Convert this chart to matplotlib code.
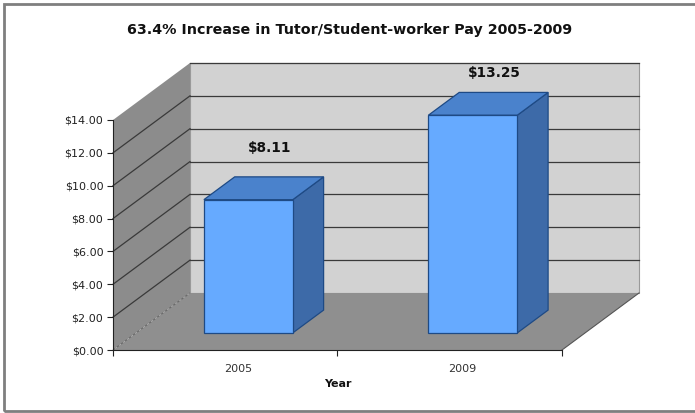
import matplotlib
matplotlib.use("Agg")
import matplotlib.pyplot as plt
from matplotlib.patches import Polygon, Rectangle
from matplotlib.ticker import FuncFormatter, FixedLocator
import matplotlib.transforms as mtransforms

# --- data ---
years = ["2005", "2009"]
pay = [8.11, 13.25]
value_labels = ["$8.11", "$13.25"]
title = "63.4% Increase in Tutor/Student-worker Pay 2005-2009"

# 3D look: depth offset of the box (x in category units, y in dollars)
DX, DY = 0.343, 3.47
D0, D1 = 0.30, 0.70      # bar front / back depth fractions
BAR_W = 0.396
YMAX = 14

fig = plt.figure(figsize=(6.95, 4.13), dpi=100)
ax = fig.add_axes([113 / 695, 63 / 413, 449 / 695, 230 / 413])
ax.set_xlim(0, len(years))
ax.set_ylim(0, YMAX)
ax.patch.set_visible(False)

side_col = "#8c8c8c"
floor_col = "#8f8f8f"
back_col = "#d2d2d2"
grid_col = "#3a3a3a"
n = len(years)

# walls and floor
ax.add_patch(Polygon([(0, 0), (DX, DY), (DX, YMAX + DY), (0, YMAX)],
                     closed=True, fc=side_col, ec="none", clip_on=False, zorder=0))
ax.add_patch(Polygon([(DX, DY), (n + DX, DY), (n + DX, YMAX + DY), (DX, YMAX + DY)],
                     closed=True, fc=back_col, ec="#9a9a9a", lw=0.8, clip_on=False, zorder=0))
ax.add_patch(Polygon([(0, 0), (n, 0), (n + DX, DY), (DX, DY)],
                     closed=True, fc=floor_col, ec="none", clip_on=False, zorder=0.5))
ax.plot([n, n + DX], [0, DY], color="#555555", lw=0.8, clip_on=False, zorder=0.6)

# gridlines on side and back walls
for t in range(2, YMAX + 1, 2):
    if t < YMAX:
        ax.plot([0, DX], [t, t + DY], color=grid_col, lw=0.9, clip_on=False, zorder=1)
    ax.plot([DX, n + DX], [t + DY, t + DY], color=grid_col, lw=0.9, clip_on=False, zorder=1)
ax.plot([0, DX], [0, DY], color="#6a6a6a", lw=0.9, ls=(0, (2, 2)), clip_on=False, zorder=1)

# bars
front_c = "#66aaff"
top_c = "#4a82cc"
side_c = "#3d6aa8"
edge_c = "#1e4a85"
label_offsets = [(4.5, 21), (4.5, 14)]
for i, v in enumerate(pay):
    c = i + 0.5
    xl, xr = c - BAR_W / 2, c + BAR_W / 2
    f0x, f0y = D0 * DX, D0 * DY
    f1x, f1y = D1 * DX, D1 * DY
    ax.add_patch(Polygon([(xr + f0x, f0y), (xr + f1x, f1y), (xr + f1x, v + f1y), (xr + f0x, v + f0y)],
                         closed=True, fc=side_c, ec=edge_c, lw=0.9, clip_on=False, zorder=3))
    ax.add_patch(Polygon([(xl + f0x, v + f0y), (xl + f1x, v + f1y), (xr + f1x, v + f1y), (xr + f0x, v + f0y)],
                         closed=True, fc=top_c, ec=edge_c, lw=0.9, clip_on=False, zorder=3))
    ax.add_patch(Rectangle((xl + f0x, f0y), BAR_W, v, fc=front_c, ec=edge_c, lw=0.9,
                           clip_on=False, zorder=4))
    ax.annotate(value_labels[i], (c + 0.5 * DX, v + f1y), xytext=label_offsets[i],
                textcoords="offset points", ha="center", va="center",
                fontsize=9.8, fontweight="bold", color="#111111", annotation_clip=False)

# axes, ticks
for s in ["top", "right"]:
    ax.spines[s].set_visible(False)
ax.spines["left"].set_color("#222222")
ax.spines["bottom"].set_color("#222222")
ax.spines["left"].set_zorder(5)
ax.spines["bottom"].set_zorder(5)
ax.set_yticks(range(0, YMAX + 1, 2))
ax.yaxis.set_major_formatter(FuncFormatter(lambda v, p: f"${v:.2f}"))
ax.tick_params(axis="y", length=4, width=0.8, labelsize=8, color="#222222",
               labelcolor="#222222", pad=3)
ax.xaxis.set_major_locator(FixedLocator(range(0, n + 1)))
ax.xaxis.set_major_formatter(FuncFormatter(lambda v, p: ""))
ax.xaxis.set_minor_locator(FixedLocator([i + 0.5 for i in range(n)]))
ax.set_xticklabels(years, minor=True)
ax.tick_params(axis="x", which="major", length=4, width=0.8, color="#222222")
ax.tick_params(axis="x", which="minor", length=0, labelsize=8, labelcolor="#333333", pad=10)
shift = mtransforms.ScaledTranslation(12.5 / 100, 0, fig.dpi_scale_trans)
for lbl in ax.xaxis.get_minorticklabels():
    lbl.set_transform(lbl.get_transform() + shift)
ax.set_xlabel("Year", fontsize=8, fontweight="bold", labelpad=4, color="#111111")

fig.text(349.5 / 695, 1 - 30 / 413, title, ha="center", va="center",
         fontsize=10.3, fontweight="bold", color="#111111")

# chart border (right edge falls outside the canvas)
fig.patches.append(Rectangle((4 / 695, 2 / 413), 700 / 695, 407 / 413, transform=fig.transFigure,
                             fill=False, ec="#7f7f7f", lw=2))

fig.savefig("out.png", dpi=100)
